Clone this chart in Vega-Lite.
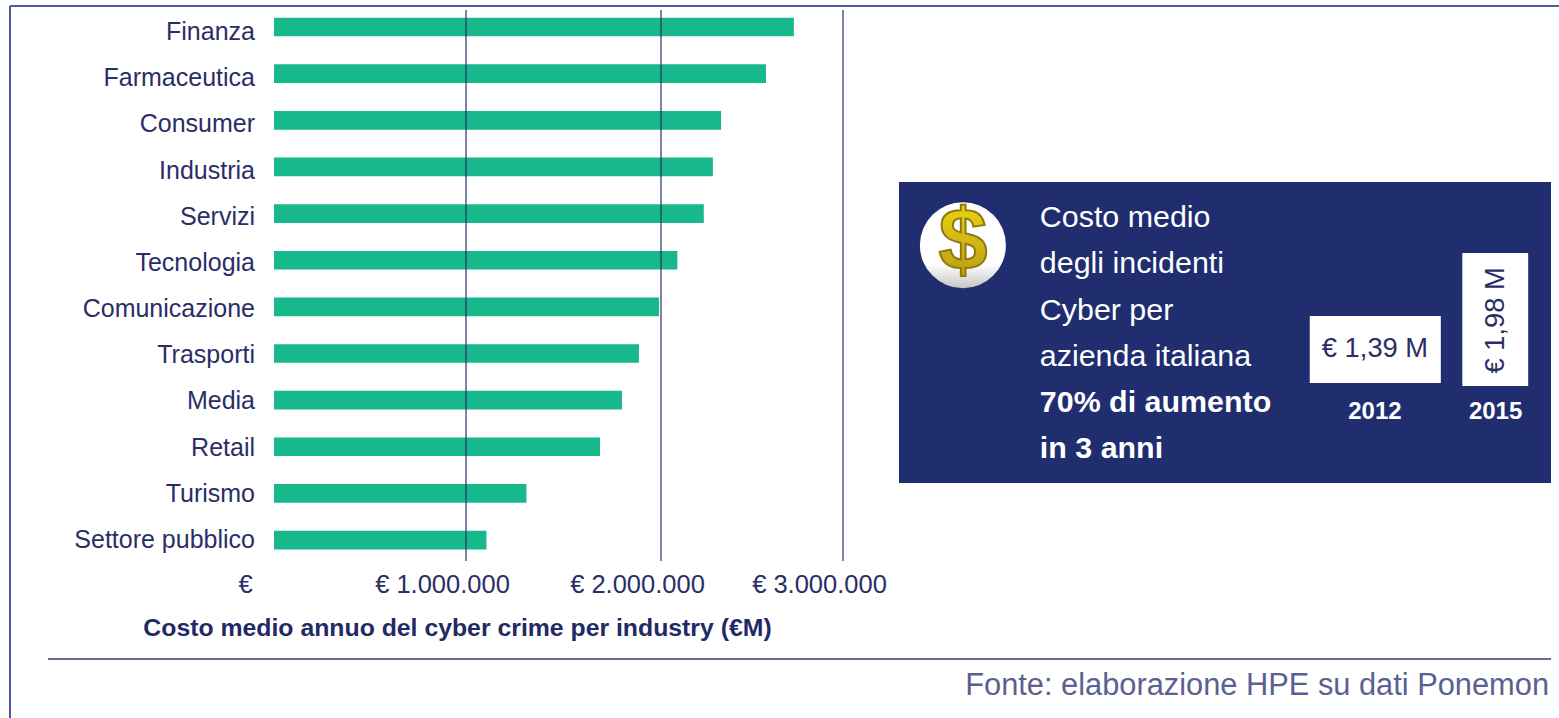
{
"$schema":"https://vega.github.io/schema/vega-lite/v6.json",
"width":569,"height":551,
"autosize":{"type":"none"},
"padding":{"left":274,"top":10,"right":716,"bottom":157},
"background":"white",
"config":{"view":{"stroke":null},"text":{"font":"Liberation Sans"}},
"datasets":{"settori":[
{"settore":"Finanza","costo":2730000},
{"settore":"Farmaceutica","costo":2577000},
{"settore":"Consumer","costo":2330000},
{"settore":"Industria","costo":2285000},
{"settore":"Servizi","costo":2235000},
{"settore":"Tecnologia","costo":2090000},
{"settore":"Comunicazione","costo":1990000},
{"settore":"Trasporti","costo":1887000},
{"settore":"Media","costo":1800000},
{"settore":"Retail","costo":1687000},
{"settore":"Turismo","costo":1310000},
{"settore":"Settore pubblico","costo":1105000}]},
"resolve":{"scale":{"x":"independent","y":"independent"},"axis":{"x":"independent","y":"independent"}},
"layer":[
{"data":{"name":"settori"},
"mark":{"type":"bar","color":"#17b88c"},
"encoding":{
"y":{"field":"settore","type":"nominal","sort":null,
"scale":{"range":[-6.3,553.4],"paddingInner":0.6,"paddingOuter":0.3},
"axis":null},
"x":{"field":"costo","type":"quantitative",
"scale":{"domain":[0,1000000,2000000,3000000],"range":[0,192,387,569]},
"axis":{"values":[0,1000000,2000000,3000000],"grid":false,
"domain":false,"ticks":false,"labelPadding":23,"labelFlush":false,"labelOverlap":false,
"labelOffset":{"condition":{"test":"datum.value===0","value":-29},"value":-24},
"labelExpr":"datum.value===0?'€':'€ '+replace(format(datum.value,','),/,/g,'.')",
"labelFont":"Liberation Sans","labelFontSize":25.5,"labelColor":"#2a2e66","labelBaseline":"middle",
"title":"Costo medio annuo del cyber crime per industry (€M)","titleFont":"Liberation Sans","titleFontSize":24.8,"titleFontWeight":"bold","titleColor":"#1f2a66","titleX":183,"titleY":67,"titleBaseline":"middle","titleAlign":"center"}}
}},
{"data":{"name":"settori"},
"mark":{"type":"text","font":"Liberation Sans","fontSize":25,"align":"right","baseline":"middle","color":"#2a2e66"},
"encoding":{
"text":{"field":"settore"},
"x":{"datum":0,"scale":{"domain":[0,1],"range":[-19,569]},"axis":null},
"y":{"field":"settore","type":"nominal","sort":null,"scale":{"type":"band","range":[-1.1,553.1]},"axis":null}}},
{"data":{"values":[{"soglia":1000000},{"soglia":2000000},{"soglia":3000000}]},
"mark":{"type":"rule","color":"#2a2e66","strokeWidth":1.2},
"encoding":{
"x":{"field":"soglia","type":"quantitative","scale":{"domain":[0,1000000,2000000,3000000],"range":[0,192,387,569]},"axis":null},
"y":{"datum":0,"scale":{"domain":[0,1],"range":[0,551]},"axis":null},"y2":{"datum":1}}},
{"data":{"values":[{"elemento":"cornice"}]},
"layer":[
{"mark":{"type":"rule","color":"#4f5a9b","strokeWidth":2},
"encoding":{"x":{"datum":0.0064,"scale":{"domain":[0,1],"range":[-274,1285]},"axis":null},"x2":{"datum":1},"y":{"datum":0.0084,"scale":{"domain":[0,1],"range":[-10,708]},"axis":null}}},
{"mark":{"type":"rule","color":"#4f5a9b","strokeWidth":2},
"encoding":{"x":{"datum":0.0064,"scale":{"domain":[0,1],"range":[-274,1285]},"axis":null},"y":{"datum":0.0084,"scale":{"domain":[0,1],"range":[-10,708]},"axis":null},"y2":{"datum":1}}},
{"mark":{"type":"rule","color":"#646c9e","strokeWidth":2},
"encoding":{"x":{"datum":0.0308,"scale":{"domain":[0,1],"range":[-274,1285]},"axis":null},"x2":{"datum":0.9949},"y":{"datum":0.9178,"scale":{"domain":[0,1],"range":[-10,708]},"axis":null}}}
]},
{"data":{"values":[{"fonte":"Fonte: elaborazione HPE su dati Ponemon"}]},
"mark":{"type":"text","font":"Liberation Sans","fontSize":30.8,"align":"right","baseline":"middle","color":"#5a6191"},
"encoding":{"text":{"field":"fonte"},"x":{"datum":0.9936,"scale":{"domain":[0,1],"range":[-274,1285]},"axis":null},"y":{"datum":0.9554,"scale":{"domain":[0,1],"range":[-10,708]},"axis":null}}},
{"data":{"values":[{"elemento":"pannello"}]},
"mark":{"type":"rect","color":"#202e70"},
"encoding":{"x":{"datum":0,"scale":{"domain":[0,1],"range":[625,1277]},"axis":null},"x2":{"datum":1},"y":{"datum":0,"scale":{"domain":[0,1],"range":[172,473]},"axis":null},"y2":{"datum":1}}},
{"data":{"values":[{"elemento":"icona"}]},
"layer":[
{"mark":{"type":"point","shape":"circle","filled":true,"size":7396,"opacity":1,"fill":{"gradient":"linear","x1":0,"y1":0,"x2":0,"y2":1,"stops":[{"offset":0,"color":"#ffffff"},{"offset":0.72,"color":"#ffffff"},{"offset":1,"color":"#c4c4c4"}]}},
"encoding":{"x":{"datum":0.098,"scale":{"domain":[0,1],"range":[625,1277]},"axis":null},"y":{"datum":0.21,"scale":{"domain":[0,1],"range":[172,473]},"axis":null}}},
{"mark":{"type":"text","text":"$","font":"Liberation Sans","fontWeight":"bold","fontSize":88,"align":"center","baseline":"middle","stroke":"#8f7a12","strokeWidth":2,"fill":{"gradient":"linear","x1":0,"y1":0,"x2":0,"y2":1,"stops":[{"offset":0,"color":"#f7dc12"},{"offset":1,"color":"#b39612"}]}},
"encoding":{"x":{"datum":0.098,"scale":{"domain":[0,1],"range":[625,1277]},"axis":null},"y":{"datum":0.205,"scale":{"domain":[0,1],"range":[172,473]},"axis":null}}}
]},
{"data":{"values":[
{"riga":"Costo medio","peso":"normale"},
{"riga":"degli incidenti","peso":"normale"},
{"riga":"Cyber per","peso":"normale"},
{"riga":"azienda italiana","peso":"normale"},
{"riga":"70% di aumento","peso":"grassetto"},
{"riga":"in 3 anni","peso":"grassetto"}]},
"encoding":{
"x":{"datum":0.216,"scale":{"domain":[0,1],"range":[625,1277]},"axis":null},
"y":{"field":"riga","type":"nominal","sort":null,"scale":{"type":"band","range":[185,462.2]},"axis":null},
"text":{"field":"riga"}},
"layer":[
{"transform":[{"filter":"datum.peso==='normale'"}],"mark":{"type":"text","font":"Liberation Sans","fontSize":30.4,"align":"left","baseline":"middle","color":"white"}},
{"transform":[{"filter":"datum.peso==='grassetto'"}],"mark":{"type":"text","font":"Liberation Sans","fontWeight":"bold","fontSize":30.4,"align":"left","baseline":"middle","color":"white"}}
]},
{"data":{"values":[{"anno":"2012","costo":"€ 1,39 M"}]},
"encoding":{"x":{"datum":0.630,"scale":{"domain":[0,1],"range":[625,1277]},"axis":null},"y":{"datum":0.445,"scale":{"domain":[0,1],"range":[172,473]},"axis":null}},
"layer":[
{"mark":{"type":"rect","color":"white"},"encoding":{"x2":{"datum":0.831},"y2":{"datum":0.668}}},
{"mark":{"type":"text","font":"Liberation Sans","fontSize":27.3,"align":"center","baseline":"middle","color":"#2a2e66"},
"encoding":{"x":{"datum":0.73,"scale":{"domain":[0,1],"range":[625,1277]},"axis":null},"y":{"datum":0.556,"scale":{"domain":[0,1],"range":[172,473]},"axis":null},"text":{"field":"costo"}}},
{"mark":{"type":"text","font":"Liberation Sans","fontWeight":"bold","fontSize":24,"align":"center","baseline":"middle","color":"white"},
"encoding":{"x":{"datum":0.73,"scale":{"domain":[0,1],"range":[625,1277]},"axis":null},"y":{"datum":0.764,"scale":{"domain":[0,1],"range":[172,473]},"axis":null},"text":{"field":"anno"}}}
]},
{"data":{"values":[{"anno":"2015","costo":"€ 1,98 M"}]},
"encoding":{"x":{"datum":0.864,"scale":{"domain":[0,1],"range":[625,1277]},"axis":null},"y":{"datum":0.236,"scale":{"domain":[0,1],"range":[172,473]},"axis":null}},
"layer":[
{"mark":{"type":"rect","color":"white"},"encoding":{"x2":{"datum":0.965},"y2":{"datum":0.678}}},
{"mark":{"type":"text","font":"Liberation Sans","fontSize":27.3,"align":"center","baseline":"middle","angle":270,"color":"#2a2e66"},
"encoding":{"x":{"datum":0.915,"scale":{"domain":[0,1],"range":[625,1277]},"axis":null},"y":{"datum":0.46,"scale":{"domain":[0,1],"range":[172,473]},"axis":null},"text":{"field":"costo"}}},
{"mark":{"type":"text","font":"Liberation Sans","fontWeight":"bold","fontSize":24,"align":"center","baseline":"middle","color":"white"},
"encoding":{"x":{"datum":0.915,"scale":{"domain":[0,1],"range":[625,1277]},"axis":null},"y":{"datum":0.764,"scale":{"domain":[0,1],"range":[172,473]},"axis":null},"text":{"field":"anno"}}}
]}
]
}
